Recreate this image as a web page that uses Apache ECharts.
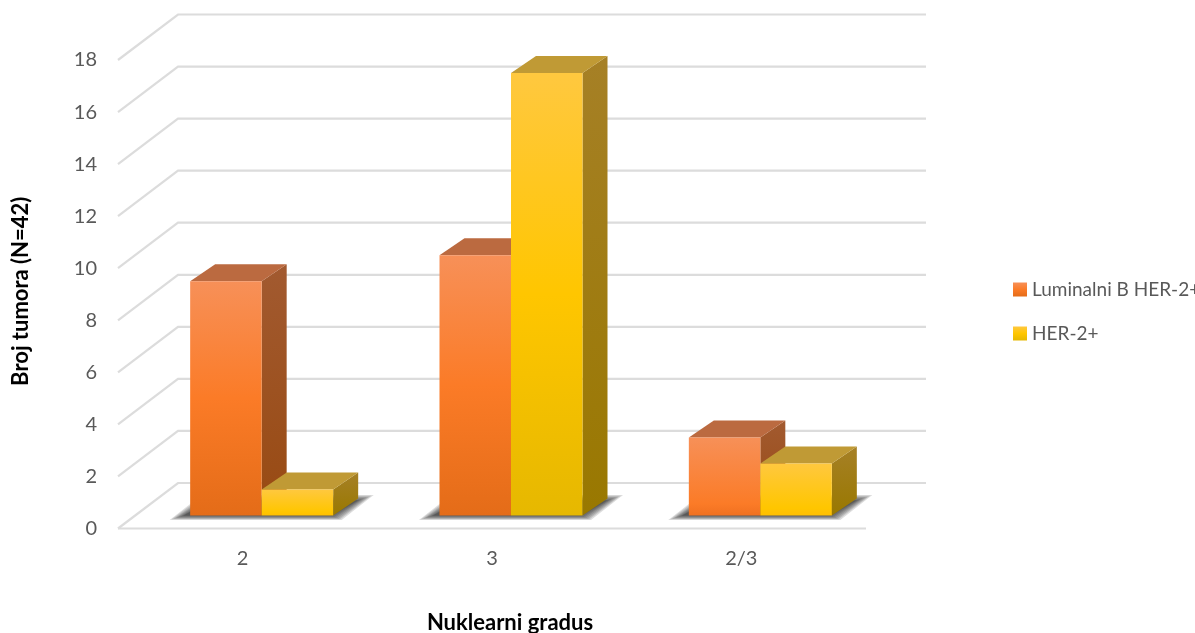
<!DOCTYPE html>
<html>
<head>
<meta charset="utf-8">
<style>html,body{margin:0;padding:0;background:#fff}#c{width:1195px;height:633px}</style>
<script src="https://cdn.jsdelivr.net/npm/echarts@6/dist/echarts.min.js"></script>
</head>
<body>
<div id="c"></div>
<script>
const categories = ['2', '3', '2/3'];
const luminalB = [9, 10, 3];
const her2 = [1, 17, 2];
const yTicks = [0, 2, 4, 6, 8, 10, 12, 14, 16, 18];
const seriesNames = ['Luminalni B HER-2+', 'HER-2+'];

// projection constants of the pseudo-3D look
const WALL_DX = 60, WALL_DY = -45.5;
const BAR_DX = 19, BAR_DY = -13, BAR_W = 71.5;
const DEPTH_DX = 25, DEPTH_DY = -17;
const GRID_COLOR = '#dcdcdc';
const SHADOW_STEPS = [10, 8.5, 7, 5.5, 4, 2.5, 1, 0];

const palettes = [
  {top: '#f79058', mid: '#fb7b27', low: '#e46c18', cap: '#bb6a40', sideA: '#a25a30', sideB: '#984a12'},
  {top: '#ffc83f', mid: '#ffc600', low: '#e6b800', cap: '#c09a35', sideA: '#a68026', sideB: '#997800'}
];
function vgrad(stops){return {type:'linear',x:0,y:0,x2:0,y2:1,colorStops:stops.map(s=>({offset:s[0],color:s[1]}))};}

function barRender(seriesIdx){
  return function(params, api){
    const cat = api.value(0), val = api.value(1);
    const c = api.coord([cat, val]), z = api.coord([cat, 0]);
    const x0 = c[0] + BAR_DX + (seriesIdx === 0 ? -BAR_W : 0), x1 = x0 + BAR_W;
    const yT = c[1] + BAR_DY, yB = z[1] + BAR_DY;
    const p = palettes[seriesIdx];
    const midAt = val < 5 ? 0.85 : 0.5;
    const lowCol = val < 5 ? (seriesIdx === 0 ? '#f07020' : '#ffbf00') : p.low;
    return {type:'group', children:[
      {type:'polygon', shape:{points:[[x1,yT],[x1+DEPTH_DX,yT+DEPTH_DY],[x1+DEPTH_DX,yB+DEPTH_DY],[x1,yB]]},
       style:{fill:vgrad([[0,p.sideA],[1,p.sideB]])}},
      {type:'polygon', shape:{points:[[x0,yT],[x0+DEPTH_DX,yT+DEPTH_DY],[x1+DEPTH_DX,yT+DEPTH_DY],[x1,yT]]},
       style:{fill:p.cap}},
      {type:'rect', shape:{x:x0,y:yT,width:BAR_W,height:yB-yT},
       style:{fill:vgrad([[0,p.top],[midAt,p.mid],[1,lowCol]])}}
    ]};
  };
}

const chart = echarts.init(document.getElementById('c'), null, {renderer:'canvas'});
chart.setOption({
  backgroundColor:'#fff',
  animation:false,
  textStyle:{fontFamily:'Lato'},
  grid:{left:118, right:329, top:60, bottom:104.5, containLabel:false, outerBoundsMode:'none'},
  legend:{
    orient:'vertical', left:1013, top:280, padding:0, itemWidth:14, itemHeight:14, itemGap:25, icon:'rect',
    data:seriesNames, selectedMode:false,
    textStyle:{fontFamily:'Lato', fontSize:19, color:'#595959'}
  },
  xAxis:{
    type:'category', data:categories, boundaryGap:true,
    axisLine:{show:false}, axisTick:{show:false}, splitLine:{show:false},
    axisLabel:{fontFamily:'Lato', fontSize:20, color:'#595959', margin:20},
    name:'Nuklearni gradus', nameLocation:'middle', nameGap:83,
    nameTextStyle:{fontFamily:'Lato', fontSize:22, fontWeight:'bold', color:'#000', padding:[0,0,0,36]}
  },
  yAxis:{
    type:'value', min:0, max:18, interval:2,
    axisLine:{show:false}, axisTick:{show:false}, splitLine:{show:false},
    axisLabel:{fontFamily:'Lato', fontSize:20, color:'#595959', margin:21, padding:[0,0,3,0]},
    name:'Broj tumora (N=42)', nameLocation:'middle', nameGap:86,
    nameTextStyle:{fontFamily:'Lato', fontSize:22, fontWeight:'bold', color:'#000', padding:[0,0,0,6]}
  },
  series:[
    {
      name:'walls', type:'custom', silent:true, clip:false, z:1,
      data:yTicks.map(t=>[0,t]),
      renderItem:function(params, api){
        const t = api.value(1);
        const left = api.coord([0,t]);
        const rect = params.coordSys;
        const xL = rect.x, y = left[1], xR = rect.x + rect.width;
        const style = {stroke:GRID_COLOR, lineWidth:2.2, fill:'none'};
        const kids = [{type:'polyline', shape:{points:[[xL,y],[xL+WALL_DX,y+WALL_DY],[xR+WALL_DX,y+WALL_DY]]}, style}];
        if(t === 0) kids.push({type:'line', shape:{x1:xL,y1:y,x2:xR,y2:y}, style});
        return {type:'group', children:kids};
      }
    },
    {
      name:'shadow', type:'custom', silent:true, clip:false, z:2,
      data:categories.map((c,i)=>[i,0]),
      renderItem:function(params, api){
        const i = api.value(0);
        const z = api.coord([i,0]);
        const cx = z[0] + BAR_DX, y = z[1] + BAR_DY;
        return {type:'group', children:SHADOW_STEPS.map(e=>({
          type:'polygon',
          shape:{points:[
            [cx-78-e*1.4, y+e*0.45],
            [cx-50-e*1.0, y-15-e*0.55],
            [cx+96+e*1.6, y-15-e*0.55],
            [cx+70+e*1.0, y+e*0.45]
          ]},
          style:{fill:'rgba(30,30,30,0.15)'}
        }))};
      }
    },
    {name:seriesNames[0], type:'custom', clip:false, z:3, data:luminalB.map((v,i)=>[i,v]),
     itemStyle:{color:vgrad([[0,'#f79058'],[0.5,'#fb7b27'],[1,'#e46c18']])},
     encode:{x:0,y:1}, renderItem:barRender(0)},
    {name:seriesNames[1], type:'custom', clip:false, z:3, data:her2.map((v,i)=>[i,v]),
     itemStyle:{color:vgrad([[0,'#ffc83f'],[0.5,'#ffc600'],[1,'#e6b800']])},
     encode:{x:0,y:1}, renderItem:barRender(1)}
  ]
});
</script>
</body>
</html>
